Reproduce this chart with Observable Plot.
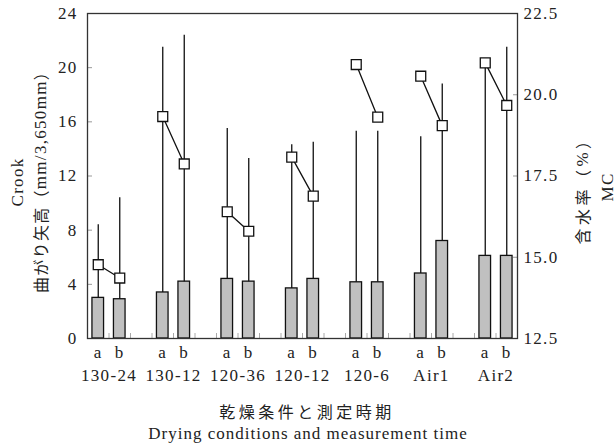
<!DOCTYPE html>
<html>
<head>
<meta charset="utf-8">
<script src="https://cdn.jsdelivr.net/npm/d3@7"></script>
<script src="https://cdn.jsdelivr.net/npm/@observablehq/plot@0.6"></script>
<style>
  html, body { margin: 0; padding: 0; background: #fff; }
  #chart svg text { letter-spacing: 1.3px; }
</style>
</head>
<body>
<div id="chart"></div>
<script>
// ---- data ----
const conditions = ["130-24", "130-12", "120-36", "120-12", "120-6", "Air1", "Air2"];
const times = ["a", "b"];
const crookA = [3.0, 3.4, 4.4, 3.7, 4.15, 4.8, 6.1];
const crookB = [2.9, 4.2, 4.2, 4.4, 4.15, 7.2, 6.1];
const crookMaxA = [8.4, 21.5, 15.5, 14.3, 15.3, 14.9, 20.3];
const crookMaxB = [10.4, 22.4, 13.3, 14.5, 15.3, 18.8, 21.5];
const mcA = [14.77, 19.33, 16.40, 18.08, 20.93, 20.57, 20.98];
const mcB = [14.36, 17.87, 15.80, 16.88, 19.31, 19.05, 19.67];
const leftTicks = [0, 4, 8, 12, 16, 20, 24];
const rightTicks = [12.5, 15.0, 17.5, 20.0, 22.5];

// MC (right axis 12.5–22.5) mapped onto crook axis (0–24)
const mcMin = 12.5, mcMax = 22.5, yMax = 24;
const toY = mc => (mc - mcMin) * yMax / (mcMax - mcMin);
const fromY = y => y * (mcMax - mcMin) / yMax + mcMin;

const rows = conditions.flatMap((c, i) => times.map((t, j) => ({
  condition: c, time: t, pos: 3 * i + j,
  crook: j ? crookB[i] : crookA[i],
  max: j ? crookMaxB[i] : crookMaxA[i],
  mc: j ? mcB[i] : mcA[i]
})));
const groups = conditions.map((c, i) => ({condition: c, pos: 3 * i + 0.5}));
const slotEdges = d3.range(-0.5, 20, 1);
const halfBar = 0.27;

const chart = Plot.plot({
  width: 616,
  height: 443,
  marginTop: 13,
  marginLeft: 87,
  marginRight: 99,
  marginBottom: 105,
  style: {fontFamily: "'Liberation Serif', 'Times New Roman', serif", fontSize: "17px", color: "#222", background: "#fff"},
  x: {type: "linear", domain: [-0.5, 19.5], axis: null},
  y: {domain: [0, 24], axis: null},
  marks: [
    Plot.axisX({ticks: slotEdges, tickFormat: () => "", tickSize: -5, stroke: "#aaa", label: null}),
    Plot.axisY({ticks: leftTicks, tickSize: -5, tickPadding: 15, stroke: "#999", fill: "#222", label: null}),
    Plot.axisY({anchor: "right", ticks: rightTicks.map(toY), tickFormat: v => fromY(v).toFixed(1), tickSize: -5, tickPadding: 11, stroke: "#999", fill: "#222", label: null}),
    Plot.rectY(rows, {x1: d => d.pos - halfBar, x2: d => d.pos + halfBar, y1: 0, y2: "crook", fill: "#c0c0c0", stroke: "#111", strokeWidth: 1.3}),
    Plot.ruleX(rows, {x: "pos", y1: "crook", y2: "max", stroke: "#111", strokeWidth: 1.3}),
    Plot.line(rows, {x: "pos", y: d => toY(d.mc), z: "condition", stroke: "#111", strokeWidth: 1.3}),
    Plot.dot(rows, {x: "pos", y: d => toY(d.mc), symbol: "square", r: 5.6, fill: "white", stroke: "#111", strokeWidth: 1.3}),
    Plot.frame({stroke: "#333", strokeWidth: 1.3}),
    Plot.text(rows, {x: "pos", text: "time", frameAnchor: "bottom", dy: 19, fill: "#222"}),
    Plot.text(groups, {x: "pos", text: "condition", frameAnchor: "bottom", dy: 42, fill: "#222"})
  ]
});
document.getElementById("chart").appendChild(chart);

// ---- axis titles ----
const svg = d3.select(chart);
const serif = "'Liberation Serif', 'Times New Roman', serif";
const cjk = "'Noto Sans CJK JP', sans-serif";

function vlabel(x, y, parts, spacing) {
  const t = svg.append("text")
    .attr("transform", `translate(${x},${y}) rotate(-90)`)
    .attr("text-anchor", "middle")
    .attr("dominant-baseline", "central")
    .attr("fill", "#222")
    .style("letter-spacing", spacing + "px");
  parts.forEach(([s, f, size]) => t.append("tspan").attr("font-family", f).attr("font-size", size).text(s));
}
vlabel(17, 182, [["Crook", serif, 17]], 1.3);
vlabel(40, 178, [["曲がり矢高（", cjk, 16], ["mm/3,650mm", serif, 17], ["）", cjk, 16]], 1.3);
vlabel(582, 187, [["含水率（", cjk, 16], ["%", serif, 17], ["）", cjk, 16]], 3.5);
vlabel(607, 187, [["MC", serif, 17]], 1.3);

svg.append("text").attr("x", 307).attr("y", 411)
  .attr("text-anchor", "middle").attr("dominant-baseline", "central")
  .attr("font-family", cjk).attr("font-size", 16).attr("fill", "#222")
  .style("letter-spacing", "3.5px").text("乾燥条件と測定時期");
svg.append("text").attr("x", 308).attr("y", 433)
  .attr("text-anchor", "middle").attr("dominant-baseline", "central")
  .attr("font-family", serif).attr("font-size", 17).attr("fill", "#222")
  .style("letter-spacing", "1px").text("Drying conditions and measurement time");
</script>
</body>
</html>
